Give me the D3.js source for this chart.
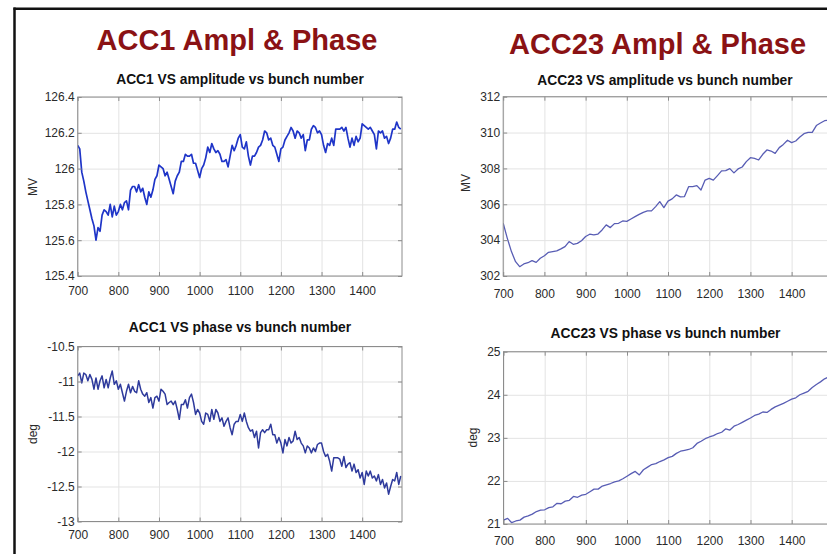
<!DOCTYPE html>
<html lang="en">
<head>
<meta charset="UTF-8">
<title>ACC1 / ACC23 Ampl & Phase</title>
<script src="https://cdn.jsdelivr.net/npm/d3@7"></script>
<style>
  body { margin: 0; background: #fff; }
  svg { display: block; font-family: "Liberation Sans", Arial, Helvetica, sans-serif; }
</style>
</head>
<body>
<svg id="chart" width="827" height="554"></svg>
<script>
// bunch numbers: left plots sampled every 5, right plots every 10
var bunchFine = d3.range(700, 1500, 5);
var bunchCoarse = d3.range(700, 1500, 10);
var xTicks = [700, 800, 900, 1000, 1100, 1200, 1300, 1400];

// ACC1 VS amplitude (MV)
var acc1Amp = [
  126.13, 126.11, 125.98, 125.93, 125.87, 125.82, 125.77, 125.72, 125.68, 125.60,
  125.67, 125.65, 125.74, 125.77, 125.76, 125.74, 125.80, 125.73, 125.79, 125.74,
  125.76, 125.80, 125.77, 125.81, 125.82, 125.77, 125.88, 125.90, 125.90, 125.87,
  125.91, 125.87, 125.89, 125.84, 125.80, 125.87, 125.84, 125.88, 125.94, 125.96,
  126.02, 126.01, 126.00, 125.96, 125.98, 125.94, 125.90, 125.86, 125.93, 125.96,
  125.98, 126.04, 126.04, 126.08, 126.07, 126.07, 126.08, 126.03, 126.03, 125.99,
  125.95, 126.00, 126.02, 126.06, 126.12, 126.09, 126.14, 126.11, 126.09, 126.10,
  126.08, 126.04, 126.04, 126.05, 126.01, 126.07, 126.13, 126.10, 126.13, 126.17,
  126.19,
  126.12, 126.11, 126.15, 126.07, 126.02, 126.07, 126.07, 126.09, 126.12, 126.13,
  126.16, 126.21, 126.20, 126.16, 126.17, 126.13, 126.12, 126.08, 126.04, 126.11,
  126.12, 126.16, 126.18, 126.20, 126.23, 126.21, 126.17, 126.21, 126.20, 126.17,
  126.19, 126.10, 126.16, 126.16, 126.22, 126.24, 126.23, 126.20, 126.21, 126.19,
  126.13, 126.09, 126.14, 126.13, 126.17, 126.13, 126.22, 126.22, 126.22, 126.23,
  126.21, 126.23, 126.17, 126.12, 126.17, 126.13, 126.18, 126.15, 126.17, 126.25,
  126.24, 126.23, 126.22, 126.23, 126.21, 126.19, 126.11, 126.21, 126.20, 126.21,
  126.17, 126.18, 126.14, 126.17, 126.22, 126.22, 126.26, 126.23, 126.22
];

// ACC1 VS phase (deg)
var acc1Phase = [
  -10.92, -10.88, -11.02, -10.88, -10.90, -10.99, -10.90, -10.97, -11.11, -10.95,
  -11.11, -10.99, -10.92, -11.09, -10.97, -11.09, -10.95, -10.85, -11.04, -10.99,
  -11.11, -11.04, -11.16, -11.28, -11.14, -11.04, -11.16, -11.07, -11.14, -11.16,
  -10.99, -11.11, -11.18, -11.21, -11.16, -11.30, -11.23, -11.38, -11.23, -11.21,
  -11.28, -11.11, -11.14, -11.18, -11.33, -11.30, -11.28, -11.33, -11.28, -11.40,
  -11.54, -11.33, -11.33, -11.26, -11.38, -11.23, -11.18, -11.30, -11.47, -11.40,
  -11.45, -11.57, -11.61, -11.45, -11.47, -11.57, -11.40, -11.54, -11.40, -11.45,
  -11.57, -11.52, -11.64, -11.57, -11.52, -11.66, -11.76, -11.61, -11.57, -11.57,
  -11.47,
  -11.57, -11.45, -11.57, -11.66, -11.71, -11.69, -11.80, -11.71, -11.95, -11.73,
  -11.69, -11.73, -11.69, -11.69, -11.61, -11.76, -11.76, -11.88, -11.80, -11.88,
  -12.02, -11.83, -11.92, -11.80, -11.88, -11.85, -11.71, -11.83, -11.80, -11.88,
  -11.92, -12.02, -11.92, -11.95, -12.02, -11.95, -12.00, -11.90, -11.88, -11.88,
  -12.00, -12.07, -12.04, -12.14, -12.28, -12.09, -12.09, -12.09, -12.11, -12.21,
  -12.07, -12.23, -12.18, -12.16, -12.28, -12.18, -12.30, -12.26, -12.38, -12.30,
  -12.47, -12.28, -12.35, -12.28, -12.38, -12.35, -12.42, -12.33, -12.47, -12.40,
  -12.52, -12.45, -12.61, -12.50, -12.40, -12.42, -12.30, -12.47, -12.35
];

// ACC23 VS amplitude (MV)
var acc23Amp = [
  304.94, 304.10, 303.36, 302.80, 302.52, 302.67, 302.74, 302.86, 302.76, 302.99,
  303.13, 303.32, 303.36, 303.40, 303.51, 303.64, 303.92, 303.77, 303.82, 303.97,
  304.20, 304.33, 304.29, 304.34, 304.57, 304.85, 304.70, 304.92, 304.94, 305.07,
  305.05, 305.18, 305.31, 305.44, 305.55, 305.63, 305.63, 305.87, 306.15, 305.81,
  306.18, 306.30, 306.52, 306.41, 306.43, 306.98, 306.98, 307.04, 306.80, 307.35,
  307.45, 307.35, 307.60, 307.86, 307.88, 307.99, 307.75, 307.97, 308.08, 308.38,
  308.60, 308.56, 308.47, 308.79, 309.03, 308.97, 308.84, 309.16, 309.34, 309.57,
  309.44, 309.53, 309.75, 309.94, 310.01, 310.01, 310.39, 310.53, 310.66, 310.70
];

// ACC23 VS phase (deg)
var acc23Phase = [
  21.09, 21.13, 21.03, 21.07, 21.09, 21.16, 21.19, 21.23, 21.29, 21.32,
  21.33, 21.38, 21.40, 21.48, 21.47, 21.53, 21.55, 21.64, 21.62, 21.67,
  21.69, 21.75, 21.81, 21.81, 21.88, 21.91, 21.94, 21.98, 22.00, 22.05,
  22.11, 22.17, 22.22, 22.14, 22.26, 22.32, 22.38, 22.40, 22.45, 22.49,
  22.54, 22.57, 22.64, 22.69, 22.71, 22.73, 22.77, 22.87, 22.92, 22.98,
  23.02, 23.05, 23.10, 23.13, 23.21, 23.18, 23.27, 23.31, 23.36, 23.41,
  23.46, 23.52, 23.55, 23.60, 23.59, 23.66, 23.72, 23.76, 23.80, 23.85,
  23.90, 23.93, 24.00, 24.04, 24.08, 24.17, 24.24, 24.30, 24.37, 24.41
];

// y tick labels (MATLAB style)
var acc1AmpTicks = [125.4, 125.6, 125.8, 126, 126.2, 126.4];
var acc1PhaseTicks = [-13, -12.5, -12, -11.5, -11, -10.5];
var acc23AmpTicks = [302, 304, 306, 308, 310, 312];
var acc23PhaseTicks = [21, 22, 23, 24, 25];

var svg = d3.select("#chart");

// slide border (top and left edges visible)
svg.append("line").attr("x1", 13.5).attr("x2", 827).attr("y1", 8.7).attr("y2", 8.7)
    .attr("stroke", "#111").attr("stroke-width", 2.5);
svg.append("line").attr("x1", 14.5).attr("x2", 14.5).attr("y1", 7.5).attr("y2", 554)
    .attr("stroke", "#111").attr("stroke-width", 2.5);

// big slide headings
var headings = [
    {text: "ACC1 Ampl & Phase", x: 237, y: 50},
    {text: "ACC23 Ampl & Phase", x: 657.5, y: 54.3}
];
svg.selectAll("text.heading")
    .data(headings)
    .join("text")
    .attr("class", "heading")
    .attr("x", function(d){ return d.x; })
    .attr("y", function(d){ return d.y; })
    .attr("text-anchor", "middle")
    .attr("font-size", 29)
    .attr("font-weight", "bold")
    .attr("fill", "#8a1214")
    .text(function(d){ return d.text; });

var panels = [
    {title: "ACC1 VS amplitude vs bunch number", ylabel: "MV", xs: bunchFine, ys: acc1Amp,
     yDomain: [125.4, 126.4], yTicks: acc1AmpTicks, left: 77.7, right: 402, top: 97, bottom: 276,
     color: "#1f35c8", width: 1.7, titleX: 240, titleY: 84, xPad: 10.5, labX: 33, labY: 187},
    {title: "ACC23 VS amplitude vs bunch number", ylabel: "MV", xs: bunchCoarse, ys: acc23Amp,
     yDomain: [302, 312], yTicks: acc23AmpTicks, left: 503.2, right: 832, top: 96.7, bottom: 276,
     color: "#585db4", width: 1.3, titleX: 665, titleY: 85, xPad: 13.5, labX: 466, labY: 183},
    {title: "ACC1 VS phase vs bunch number", ylabel: "deg", xs: bunchFine, ys: acc1Phase,
     yDomain: [-13, -10.5], yTicks: acc1PhaseTicks, left: 77.7, right: 402, top: 346.5, bottom: 521.5,
     color: "#2e3a9c", width: 1.5, titleX: 240, titleY: 331.5, xPad: 8.5, labX: 32.5, labY: 434},
    {title: "ACC23 VS phase vs bunch number", ylabel: "deg", xs: bunchCoarse, ys: acc23Phase,
     yDomain: [21, 25], yTicks: acc23PhaseTicks, left: 503.5, right: 832, top: 351.7, bottom: 524,
     color: "#585db4", width: 1.3, titleX: 665.5, titleY: 337.5, xPad: 12.5, labX: 473, labY: 437.5}
];

panels.forEach(function(p, i) {
    var x = d3.scaleLinear().domain([700, 1498]).range([p.left, p.right]);
    var y = d3.scaleLinear().domain(p.yDomain).range([p.bottom, p.top]);
    var w = p.right - p.left, h = p.bottom - p.top;
    var g = svg.append("g");

    // grid
    g.append("g").attr("transform", "translate(0," + p.bottom + ")")
        .call(d3.axisBottom(x).tickValues(xTicks).tickSize(-h).tickFormat(""))
        .call(function(a){ a.select(".domain").remove(); a.selectAll("line").attr("stroke", "#e3e3e3"); });
    g.append("g").attr("transform", "translate(" + p.left + ",0)")
        .call(d3.axisLeft(y).tickValues(p.yTicks).tickSize(-w).tickFormat(""))
        .call(function(a){ a.select(".domain").remove(); a.selectAll("line").attr("stroke", "#e3e3e3"); });

    // data line
    var clipId = "clip" + i;
    svg.append("clipPath").attr("id", clipId).append("rect")
        .attr("x", p.left).attr("y", p.top).attr("width", w).attr("height", h);
    g.append("path")
        .datum(p.ys.map(function(v, k){ return [p.xs[k], v]; }))
        .attr("clip-path", "url(#" + clipId + ")")
        .attr("fill", "none")
        .attr("stroke", p.color)
        .attr("stroke-width", p.width)
        .attr("stroke-linejoin", "round")
        .attr("d", d3.line().x(function(d){ return x(d[0]); }).y(function(d){ return y(d[1]); }));

    // box with inward ticks
    g.append("rect").attr("x", p.left).attr("y", p.top).attr("width", w).attr("height", h)
        .attr("fill", "none").attr("stroke", "#8c8c8c").attr("stroke-width", 1);
    var tickStyle = function(a){
        a.select(".domain").remove();
        a.selectAll("line").attr("stroke", "#8c8c8c");
        a.selectAll("text").attr("fill", "#2a2a2a").attr("font-size", 12)
            .attr("font-family", "'Liberation Sans', Arial, sans-serif");
    };
    g.append("g").attr("transform", "translate(0," + p.bottom + ")")
        .call(d3.axisBottom(x).tickValues(xTicks).tickSize(-4).tickPadding(p.xPad).tickFormat(String))
        .call(tickStyle);
    g.append("g").attr("transform", "translate(0," + p.top + ")")
        .call(d3.axisTop(x).tickValues(xTicks).tickSize(-4).tickFormat(""))
        .call(tickStyle);
    g.append("g").attr("transform", "translate(" + p.left + ",0)")
        .call(d3.axisLeft(y).tickValues(p.yTicks).tickSize(-4).tickPadding(3).tickFormat(String))
        .call(tickStyle);
    g.append("g").attr("transform", "translate(" + p.right + ",0)")
        .call(d3.axisRight(y).tickValues(p.yTicks).tickSize(-4).tickFormat(""))
        .call(tickStyle);

    // titles and y label
    g.append("text").attr("x", p.titleX).attr("y", p.titleY)
        .attr("text-anchor", "middle").attr("font-size", 13.8).attr("font-weight", "bold")
        .attr("fill", "#111").text(p.title);
    g.append("text")
        .attr("transform", "translate(" + p.labX + "," + p.labY + ") rotate(-90)")
        .attr("text-anchor", "middle").attr("dy", "0.35em")
        .attr("font-size", 12).attr("fill", "#2a2a2a").text(p.ylabel);
});
</script>
</body>
</html>
